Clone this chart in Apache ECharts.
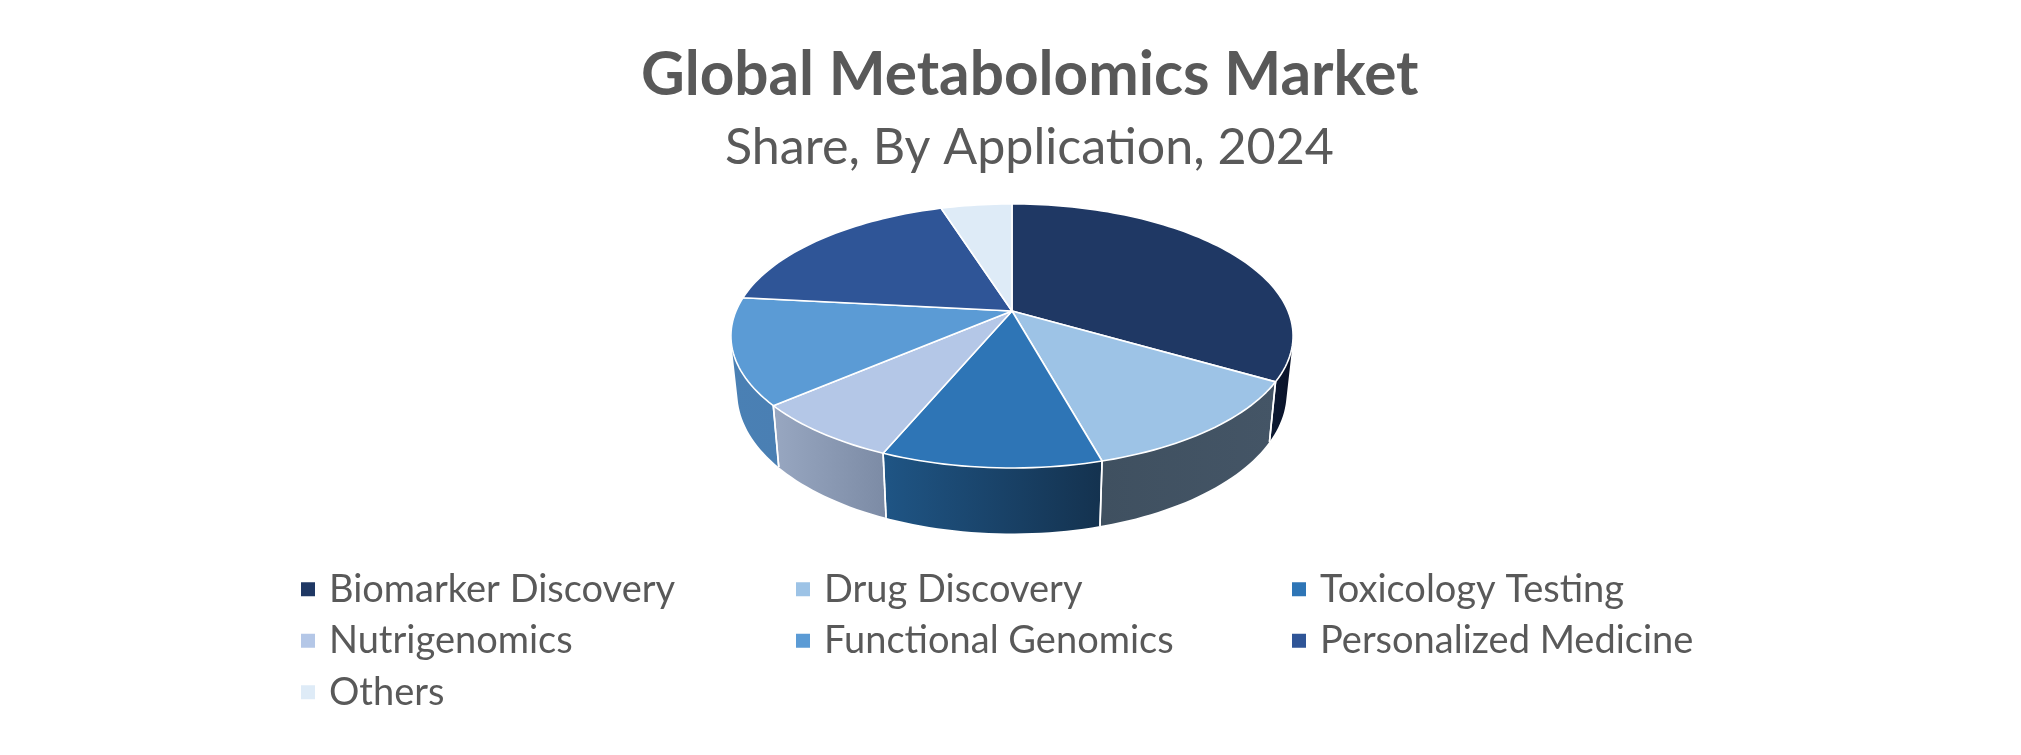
<!DOCTYPE html>
<html><head><meta charset="utf-8">
<script src="https://cdn.jsdelivr.net/npm/echarts@6/dist/echarts.min.js"></script>
<style>html,body{margin:0;padding:0;background:#fff}#c{width:2021px;height:755px}</style></head>
<body><div id="c"></div>
<script>
var categories = ["Biomarker Discovery","Drug Discovery","Toxicology Testing","Nutrigenomics","Functional Genomics","Personalized Medicine","Others"];
var shares = [33.4,12.3,10.6,7.4,13.0,18.4,4.9];
var topColors = ["#1f3864","#9dc3e6","#2e75b6","#b4c7e7","#5b9bd5","#2f5597","#deebf7"];
var wallFrom = ["#0c1a33","#3f5060","#1f5585","#98a7c1","#4a80b4","#1f3864","#9fb0c0"];
var wallTo   = ["#0a1228","#445566","#14324f","#7c8ba5","#4a7fb3","#1f3864","#9fb0c0"];
var legendColumns = [[0,3,6],[1,4],[2,5]];
var legendLefts = [301,796,1292];

var total = shares.reduce(function(a,b){return a+b;},0);
var CX=1012, APEX=311, A=127.3, B=-0.189, C=276;
function topPoint(deg){
  var t=deg*Math.PI/180, X=Math.sin(t), Y=-Math.cos(t), d=1+B*Y;
  return [CX+C*X/d, APEX+A*Y/d];
}
function bottomPoint(deg){
  var p=topPoint(deg);
  return [CX+(p[0]-CX)*0.977, p[1]+60+(p[1]-382)*0.064];
}
var WALL_MIN=104, WALL_MAX=256;
function makeRender(idx){
  return function(params,api){
    var start=0; for(var i=0;i<idx;i++) start+=shares[i]/total*360;
    var end=start+api.value(0)/total*360;
    var children=[], pts=[[CX,APEX]], d;
    for(d=start;d<end;d+=1.5) pts.push(topPoint(d));
    pts.push(topPoint(end));
    children.push({type:'polygon',z2:10,shape:{points:pts},
      style:{fill:topColors[idx],stroke:'#ffffff',lineWidth:1.6,lineJoin:'round'}});
    var a=Math.max(start,WALL_MIN), b=Math.min(end,WALL_MAX);
    if(b>a){
      var up=[],down=[];
      for(d=a;d<b;d+=1.5){up.push(topPoint(d));down.push(bottomPoint(d));}
      up.push(topPoint(b));down.push(bottomPoint(b));
      children.push({type:'polygon',z2:1,shape:{points:up.concat(down.reverse())},
        style:{fill:new echarts.graphic.LinearGradient(0,0,1,0,[
          {offset:0,color:wallFrom[idx]},{offset:1,color:wallTo[idx]}])}});
      [start,end].forEach(function(e){
        if(e>WALL_MIN&&e<WALL_MAX){
          var p=topPoint(e),q=bottomPoint(e);
          children.push({type:'line',z2:5,shape:{x1:p[0],y1:p[1],x2:q[0],y2:q[1]},
            style:{stroke:'#ffffff',lineWidth:1.6}});
        }
      });
    }
    return {type:'group',children:children};
  };
}
var series=categories.map(function(name,i){
  return {type:'custom',name:name,coordinateSystem:'none',silent:true,
    itemStyle:{color:topColors[i]},renderItem:makeRender(i),data:[[shares[i]]]};
});
var FONT='Lato';
var legends=legendColumns.map(function(col,k){
  return {show:true,orient:'vertical',left:legendLefts[k],top:568.5,padding:0,
    itemWidth:14,itemHeight:14,itemGap:10,selectedMode:false,icon:'rect',
    data:col.map(function(i){return categories[i];}),
    textStyle:{fontFamily:FONT,fontSize:38,color:'#595959',lineHeight:41.5,padding:[0,0,0,9]}};
});
var chart=echarts.init(document.getElementById('c'));
chart.setOption({
  animation:false,backgroundColor:'#ffffff',
  title:[
    {text:'Global Metabolomics Market',left:641,top:46,padding:0,
     textStyle:{fontFamily:FONT,fontWeight:'bold',fontSize:60.3,color:'#595959'}},
    {text:'Share, By Application, 2024',left:725,top:123,padding:0,
     textStyle:{fontFamily:FONT,fontWeight:'normal',fontSize:50.2,color:'#595959'}}
  ],
  legend:legends,
  series:series
});
</script></body></html>
